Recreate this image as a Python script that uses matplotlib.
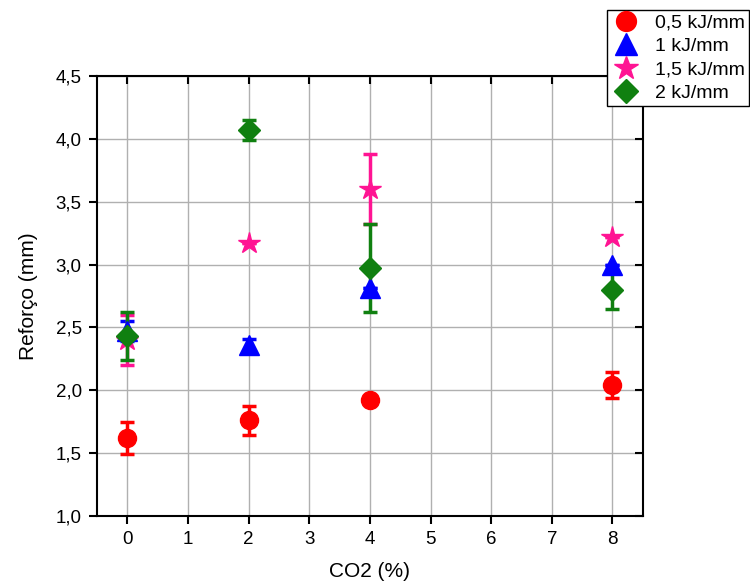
import matplotlib
matplotlib.use("Agg")
import matplotlib.pyplot as plt
from matplotlib.ticker import FuncFormatter, MultipleLocator

plt.rcParams['font.family'] = ['Liberation Sans', 'DejaVu Sans']

# CO2 content (%) and reinforcement (mm) per heat input
co2 = [0, 2, 4, 8]
labels = ['0,5 kJ/mm', '1 kJ/mm', '1,5 kJ/mm', '2 kJ/mm']

ref_05 = [1.62, 1.76, 1.92, 2.04]
err_05 = [0.13, 0.115, 0.0, 0.105]

ref_10 = [2.47, 2.36, 2.81, 3.00]
err_10 = [0.08, 0.05, 0.0, 0.0]

ref_15 = [2.40, 3.17, 3.60, 3.22]
err_15 = [0.20, 0.0, 0.28, 0.0]

ref_20 = [2.43, 4.07, 2.97, 2.80]
err_20 = [0.19, 0.08, 0.35, 0.15]

series = [
    (ref_05, err_05, 'o', '#ff0000', 13),
    (ref_10, err_10, '^', '#0000ff', 14),
    (ref_15, err_15, '*', '#ff1493', 16),
    (ref_20, err_20, 'D', '#108010', 11),
]

fig = plt.figure(figsize=(7.5, 5.84), dpi=100)
ax = fig.add_axes([0.1293, 0.1164, 0.7277, 0.7535])

handles = []
for (vals, errs, mk, col, ms), lab in zip(series, labels):
    h = ax.errorbar(co2, vals, yerr=errs, fmt=mk, color=col, ms=ms,
                    ecolor=col, elinewidth=2.5, capsize=5, capthick=2.5,
                    label=lab, zorder=3)
    handles.append(h[0])

ax.set_xlim(-0.5, 8.5)
ax.set_ylim(1.0, 4.5)
ax.xaxis.set_major_locator(MultipleLocator(1))
ax.yaxis.set_major_locator(MultipleLocator(0.5))
ax.yaxis.set_major_formatter(FuncFormatter(lambda v, p: ('%.1f' % v).replace('.', ',')))

ax.grid(True, color='#b0b0b0', linewidth=1.0, zorder=0)
ax.set_axisbelow(True)

for sp in ax.spines.values():
    sp.set_linewidth(1.5)
ax.tick_params(axis='both', which='major', direction='out', length=6, width=1.5,
               labelsize=13.5, colors='black', pad=5)
ax.tick_params(top=True, right=True, labeltop=False, labelright=False)
# top / right ticks point inward
for t in ax.xaxis.get_major_ticks():
    t.tick2line.set_marker(3)
for t in ax.yaxis.get_major_ticks():
    t.tick2line.set_marker(0)

ax.set_xlabel('CO2 (%)', fontsize=15, labelpad=10)
ax.set_ylabel('Reforço (mm)', fontsize=15, labelpad=13)

fig.legend(handles, labels, loc='upper left', bbox_to_anchor=(0.809, 0.983),
           borderaxespad=0, frameon=True, fancybox=False, edgecolor='black',
           fontsize=14, handletextpad=0.7, labelspacing=0.3, borderpad=0.2,
           handlelength=1.6, framealpha=1, markerscale=1.1)

fig.savefig('out.png', dpi=100)
